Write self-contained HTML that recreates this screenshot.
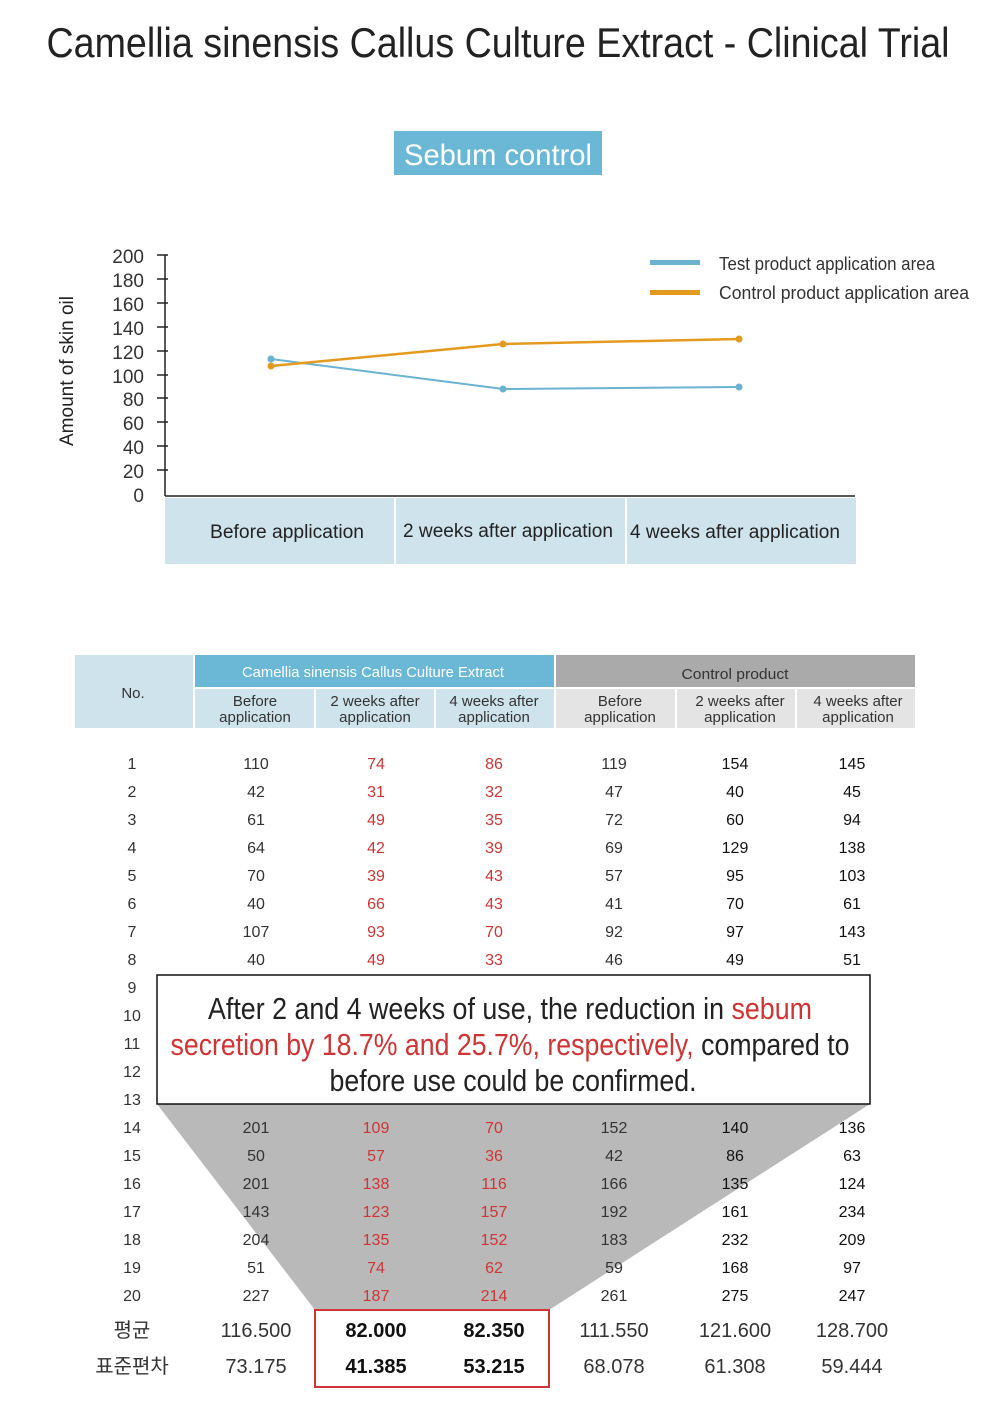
<!DOCTYPE html>
<html><head><meta charset="utf-8"><style>
html,body{margin:0;padding:0;background:#fff}
svg{display:block}
text{font-family:"Liberation Sans","Noto Sans CJK KR",sans-serif}
</style></head><body>
<svg width="990" height="1401" viewBox="0 0 990 1401" xmlns="http://www.w3.org/2000/svg">
<text x="498" y="57" font-size="42" fill="#222" text-anchor="middle" textLength="903" lengthAdjust="spacingAndGlyphs">Camellia sinensis Callus Culture Extract - Clinical Trial</text>
<rect x="394" y="131" width="208" height="44" fill="#6bb8d6"/>
<text x="498" y="165" font-size="30" fill="#fff" text-anchor="middle" textLength="188" lengthAdjust="spacingAndGlyphs">Sebum control</text>

<!-- chart -->
<text transform="translate(73,371) rotate(-90)" font-size="19" fill="#222" text-anchor="middle" textLength="150" lengthAdjust="spacingAndGlyphs">Amount of skin oil</text>
<g font-size="19" fill="#333" text-anchor="end">
<text x="144" y="263">200</text><text x="144" y="287">180</text><text x="144" y="311">160</text><text x="144" y="335">140</text><text x="144" y="359">120</text><text x="144" y="383">100</text><text x="144" y="406">80</text><text x="144" y="430">60</text><text x="144" y="454">40</text><text x="144" y="478">20</text><text x="144" y="502">0</text>
</g>
<g stroke="#222" stroke-width="1.5">
<line x1="165" y1="255" x2="165" y2="496"/>
<line x1="165" y1="496" x2="855" y2="496"/>
<line x1="157" y1="255" x2="168" y2="255"/><line x1="157" y1="279" x2="168" y2="279"/><line x1="157" y1="303" x2="168" y2="303"/><line x1="157" y1="327" x2="168" y2="327"/><line x1="157" y1="351" x2="168" y2="351"/><line x1="157" y1="375" x2="168" y2="375"/><line x1="157" y1="398" x2="168" y2="398"/><line x1="157" y1="422" x2="168" y2="422"/><line x1="157" y1="446" x2="168" y2="446"/><line x1="157" y1="470" x2="168" y2="470"/>
</g>
<rect x="165" y="498" width="229" height="66" fill="#cfe3ec"/>
<rect x="396" y="498" width="229" height="66" fill="#cfe3ec"/>
<rect x="627" y="498" width="229" height="66" fill="#cfe3ec"/>
<g font-size="19" fill="#222" text-anchor="middle">
<text x="287" y="538" textLength="154" lengthAdjust="spacingAndGlyphs">Before application</text>
<text x="508" y="537" textLength="210" lengthAdjust="spacingAndGlyphs">2 weeks after application</text>
<text x="735" y="538" textLength="210" lengthAdjust="spacingAndGlyphs">4 weeks after application</text>
</g>
<polyline points="271,359 503,389 739,387" fill="none" stroke="#6bb3d0" stroke-width="2"/>
<polyline points="271,366 503,344 739,339" fill="none" stroke="#e39a1f" stroke-width="2.5"/>
<g fill="#6bb3d0"><circle cx="271" cy="359" r="3.5"/><circle cx="503" cy="389" r="3.5"/><circle cx="739" cy="387" r="3.5"/></g>
<g fill="#e39a1f"><circle cx="271" cy="366" r="3.5"/><circle cx="503" cy="344" r="3.5"/><circle cx="739" cy="339" r="3.5"/></g>
<rect x="650" y="260" width="50" height="5" fill="#6bb3d0"/>
<rect x="650" y="290" width="50" height="5" fill="#e39a1f"/>
<text x="719" y="270" font-size="18" fill="#333" textLength="216" lengthAdjust="spacingAndGlyphs">Test product application area</text>
<text x="719" y="299" font-size="18" fill="#333" textLength="250" lengthAdjust="spacingAndGlyphs">Control product application area</text>

<!-- table header -->
<rect x="75" y="655" width="118" height="73" fill="#cfe3ec"/>
<rect x="195" y="655" width="359" height="32" fill="#6bb8d6"/>
<rect x="556" y="655" width="359" height="32" fill="#aaaaaa"/>
<rect x="195" y="689" width="119" height="39" fill="#cfe3ec"/>
<rect x="316" y="689" width="118" height="39" fill="#cfe3ec"/>
<rect x="436" y="689" width="118" height="39" fill="#cfe3ec"/>
<rect x="556" y="689" width="119" height="39" fill="#e4e4e4"/>
<rect x="677" y="689" width="118" height="39" fill="#e4e4e4"/>
<rect x="797" y="689" width="118" height="39" fill="#e4e4e4"/>
<g font-size="15" text-anchor="middle" fill="#333">
<text x="133" y="698">No.</text>
<text x="373" y="677" fill="#fff" textLength="262" lengthAdjust="spacingAndGlyphs">Camellia sinensis Callus Culture Extract</text>
<text x="735" y="679" textLength="107" lengthAdjust="spacingAndGlyphs">Control product</text>
<text x="255" y="706">Before</text><text x="255" y="722">application</text>
<text x="375" y="706">2 weeks after</text><text x="375" y="722">application</text>
<text x="494" y="706">4 weeks after</text><text x="494" y="722">application</text>
<text x="620" y="706">Before</text><text x="620" y="722">application</text>
<text x="740" y="706">2 weeks after</text><text x="740" y="722">application</text>
<text x="858" y="706">4 weeks after</text><text x="858" y="722">application</text>
</g>

<!-- gray trapezoid -->
<polygon points="157,1104 870,1104 549,1310 315,1310" fill="#b9b9b9"/>

<!-- rows -->
<g font-size="16" text-anchor="middle" fill="#333">
<g id="r">
<text x="132" y="769">1</text><text x="256" y="769">110</text><text x="376" y="769" fill="#d03434">74</text><text x="494" y="769" fill="#d03434">86</text><text x="614" y="769">119</text><text x="735" y="769" fill="#111">154</text><text x="852" y="769" fill="#111">145</text>
<text x="132" y="797">2</text><text x="256" y="797">42</text><text x="376" y="797" fill="#d03434">31</text><text x="494" y="797" fill="#d03434">32</text><text x="614" y="797">47</text><text x="735" y="797" fill="#111">40</text><text x="852" y="797" fill="#111">45</text>
<text x="132" y="825">3</text><text x="256" y="825">61</text><text x="376" y="825" fill="#d03434">49</text><text x="494" y="825" fill="#d03434">35</text><text x="614" y="825">72</text><text x="735" y="825" fill="#111">60</text><text x="852" y="825" fill="#111">94</text>
<text x="132" y="853">4</text><text x="256" y="853">64</text><text x="376" y="853" fill="#d03434">42</text><text x="494" y="853" fill="#d03434">39</text><text x="614" y="853">69</text><text x="735" y="853" fill="#111">129</text><text x="852" y="853" fill="#111">138</text>
<text x="132" y="881">5</text><text x="256" y="881">70</text><text x="376" y="881" fill="#d03434">39</text><text x="494" y="881" fill="#d03434">43</text><text x="614" y="881">57</text><text x="735" y="881" fill="#111">95</text><text x="852" y="881" fill="#111">103</text>
<text x="132" y="909">6</text><text x="256" y="909">40</text><text x="376" y="909" fill="#d03434">66</text><text x="494" y="909" fill="#d03434">43</text><text x="614" y="909">41</text><text x="735" y="909" fill="#111">70</text><text x="852" y="909" fill="#111">61</text>
<text x="132" y="937">7</text><text x="256" y="937">107</text><text x="376" y="937" fill="#d03434">93</text><text x="494" y="937" fill="#d03434">70</text><text x="614" y="937">92</text><text x="735" y="937" fill="#111">97</text><text x="852" y="937" fill="#111">143</text>
<text x="132" y="965">8</text><text x="256" y="965">40</text><text x="376" y="965" fill="#d03434">49</text><text x="494" y="965" fill="#d03434">33</text><text x="614" y="965">46</text><text x="735" y="965" fill="#111">49</text><text x="852" y="965" fill="#111">51</text>
<text x="132" y="993">9</text><text x="132" y="1021">10</text><text x="132" y="1049">11</text><text x="132" y="1077">12</text><text x="132" y="1105">13</text>
<text x="132" y="1133">14</text><text x="256" y="1133">201</text><text x="376" y="1133" fill="#d03434">109</text><text x="494" y="1133" fill="#d03434">70</text><text x="614" y="1133">152</text><text x="735" y="1133" fill="#111">140</text><text x="852" y="1133" fill="#111">136</text>
<text x="132" y="1161">15</text><text x="256" y="1161">50</text><text x="376" y="1161" fill="#d03434">57</text><text x="494" y="1161" fill="#d03434">36</text><text x="614" y="1161">42</text><text x="735" y="1161" fill="#111">86</text><text x="852" y="1161" fill="#111">63</text>
<text x="132" y="1189">16</text><text x="256" y="1189">201</text><text x="376" y="1189" fill="#d03434">138</text><text x="494" y="1189" fill="#d03434">116</text><text x="614" y="1189">166</text><text x="735" y="1189" fill="#111">135</text><text x="852" y="1189" fill="#111">124</text>
<text x="132" y="1217">17</text><text x="256" y="1217">143</text><text x="376" y="1217" fill="#d03434">123</text><text x="494" y="1217" fill="#d03434">157</text><text x="614" y="1217">192</text><text x="735" y="1217" fill="#111">161</text><text x="852" y="1217" fill="#111">234</text>
<text x="132" y="1245">18</text><text x="256" y="1245">204</text><text x="376" y="1245" fill="#d03434">135</text><text x="494" y="1245" fill="#d03434">152</text><text x="614" y="1245">183</text><text x="735" y="1245" fill="#111">232</text><text x="852" y="1245" fill="#111">209</text>
<text x="132" y="1273">19</text><text x="256" y="1273">51</text><text x="376" y="1273" fill="#d03434">74</text><text x="494" y="1273" fill="#d03434">62</text><text x="614" y="1273">59</text><text x="735" y="1273" fill="#111">168</text><text x="852" y="1273" fill="#111">97</text>
<text x="132" y="1301">20</text><text x="256" y="1301">227</text><text x="376" y="1301" fill="#d03434">187</text><text x="494" y="1301" fill="#d03434">214</text><text x="614" y="1301">261</text><text x="735" y="1301" fill="#111">275</text><text x="852" y="1301" fill="#111">247</text>
</g>
</g>
<g font-size="20" text-anchor="middle" fill="#333">
<text x="132" y="1337">평균</text><text x="256" y="1337">116.500</text><text x="376" y="1337" fill="#111" font-weight="bold">82.000</text><text x="494" y="1337" fill="#111" font-weight="bold">82.350</text><text x="614" y="1337">111.550</text><text x="735" y="1337">121.600</text><text x="852" y="1337">128.700</text>
<text x="132" y="1373">표준편차</text><text x="256" y="1373">73.175</text><text x="376" y="1373" fill="#111" font-weight="bold">41.385</text><text x="494" y="1373" fill="#111" font-weight="bold">53.215</text><text x="614" y="1373">68.078</text><text x="735" y="1373">61.308</text><text x="852" y="1373">59.444</text>
</g>
<rect x="315" y="1310" width="234" height="77" fill="none" stroke="#d03434" stroke-width="2"/>

<!-- callout box -->
<rect x="157" y="975" width="713" height="129" fill="#fff" stroke="#111" stroke-width="1.5"/>
<g font-size="31" text-anchor="middle" fill="#222">
<text x="510" y="1019" textLength="604" lengthAdjust="spacingAndGlyphs">After 2 and 4 weeks of use, the reduction in <tspan fill="#d03434">sebum</tspan></text>
<text x="510" y="1055" textLength="679" lengthAdjust="spacingAndGlyphs"><tspan fill="#d03434">secretion by 18.7% and 25.7%, respectively,</tspan> compared to</text>
<text x="513" y="1091" textLength="367" lengthAdjust="spacingAndGlyphs">before use could be confirmed.</text>
</g>
</svg>
</body></html>
